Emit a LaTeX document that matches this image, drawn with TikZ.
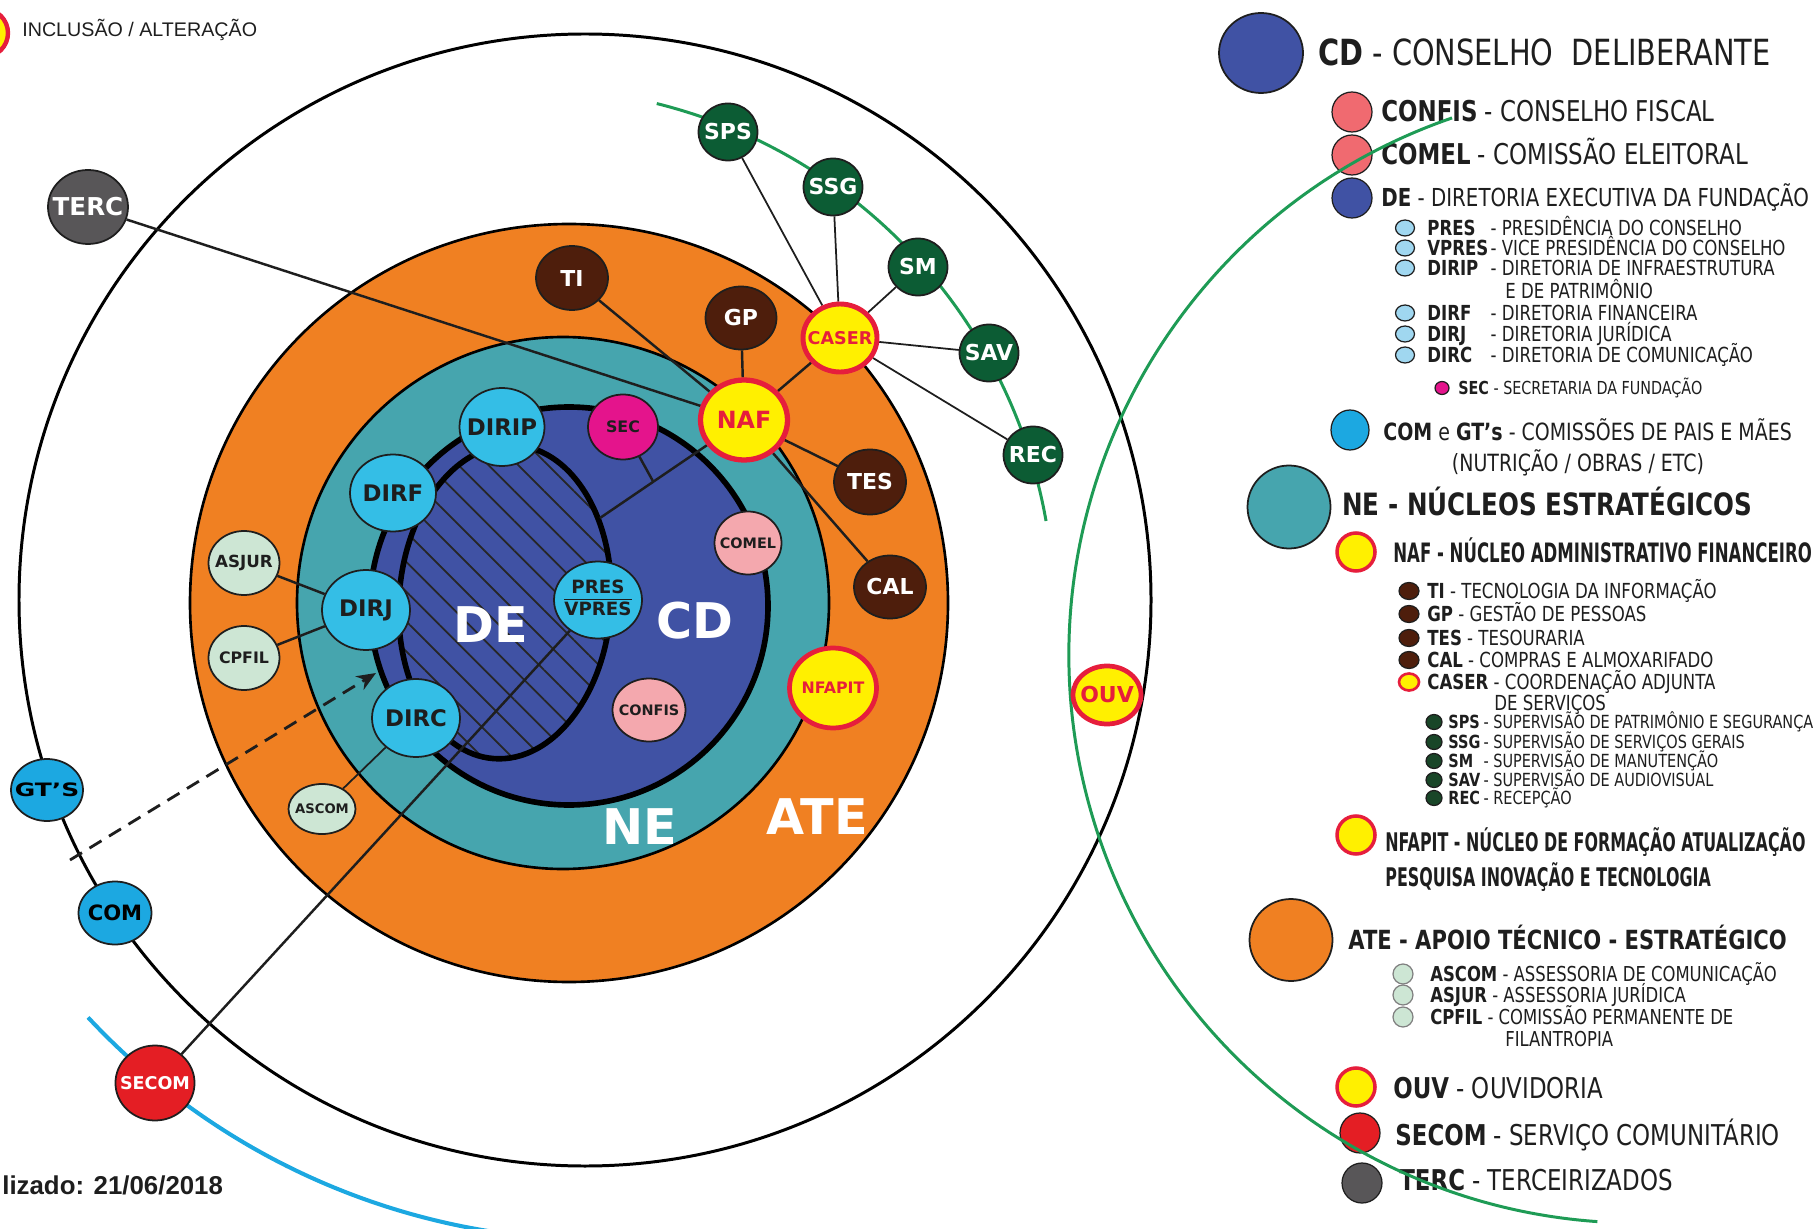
\documentclass[tikz,border=0pt]{standalone}
\usepackage{fontspec}
\setmainfont{DejaVu Sans}
\newfontfamily\condfont[FakeStretch=0.8]{DejaVu Sans}
\newfontfamily\narrowfont[FakeStretch=0.62]{DejaVu Sans}
\newfontfamily\widefont[FakeStretch=1.35]{DejaVu Sans}
\newfontfamily\arialfont{Liberation Sans}
\usepackage{tikz}
\usetikzlibrary{shapes.geometric,patterns.meta,arrows.meta,calc,positioning}

\newdimen\pxu \pxu=0.02cm
\newcommand{\fsz}[1]{\fontsize{#1}{#1}\selectfont}

\definecolor{ringorange}{RGB}{240,128,34}
\definecolor{ringteal}{RGB}{70,165,174}
\definecolor{cdblue}{RGB}{64,82,164}
\definecolor{dircyan}{RGB}{52,190,230}
\definecolor{comblue}{RGB}{28,168,225}
\definecolor{brownfill}{RGB}{78,30,12}
\definecolor{supgreen}{RGB}{12,92,52}
\definecolor{nafyellow}{RGB}{255,240,0}
\definecolor{nafred}{RGB}{230,30,60}
\definecolor{secmag}{RGB}{228,20,140}
\definecolor{pinkfill}{RGB}{244,168,174}
\definecolor{paleg}{RGB}{205,230,212}
\definecolor{secomred}{RGB}{228,30,36}
\definecolor{tercgray}{RGB}{88,86,88}
\definecolor{arcgreen}{RGB}{30,155,85}
\definecolor{arcblue}{RGB}{28,168,225}
\definecolor{inkdark}{RGB}{30,30,30}
\definecolor{salmon}{RGB}{240,106,112}
\definecolor{lightdir}{RGB}{160,215,240}
\definecolor{lgreen}{RGB}{25,70,40}

\pgfdeclarelayer{back}
\pgfdeclarelayer{mid}
\pgfsetlayers{back,mid,main}

\begin{document}
\begin{tikzpicture}[x=0.02cm,y=-0.02cm,
    bub/.style 2 args={ellipse, draw=inkdark, line width=1pt, inner xsep=-4pt, inner ysep=0pt,
      minimum width=#1*\pxu, minimum height=#2*\pxu, font=\bfseries},
    lgdot/.style 2 args={ellipse, draw=inkdark, line width=0.7pt, inner sep=0pt,
      minimum width=#1*\pxu, minimum height=#2*\pxu},
    dirnode/.style={fill=dircyan, text=inkdark, font=\bfseries\fsz{13}},
    brnode/.style={fill=brownfill, text=white, font=\bfseries\fsz{12.5}},
    supnode/.style={bub={59}{57}, fill=supgreen, text=white, font=\bfseries\fsz{12.5}},
    hotnode/.style={fill=nafyellow, draw=nafred, text=nafred},
    pinknode/.style={fill=pinkfill, text=inkdark},
    asnode/.style={fill=paleg, text=inkdark},
    comnode/.style={fill=comblue, text=black},
    ringlab/.style={text=white, font=\bfseries\fsz{28}},
    link/.style={draw=inkdark, line width=1.4pt},
    thinlink/.style={draw=inkdark, line width=1pt},
    dashline/.style={draw=inkdark, line width=1.6pt, dash pattern=on 8pt off 5pt,
      -{Stealth[length=11pt,width=9pt]}},
    lgtx/.style={anchor=base west, inner sep=0pt, text=inkdark, font=\condfont\fsz{#1}}]

\useasboundingbox (0,0) rectangle (1818,1229);

\node[bub={48}{48}, hotnode, line width=2.5pt] (incl) at (-16,33) {};
\node[anchor=base west, inner sep=0pt, text=inkdark, font=\arialfont\fsz{11.2}] (incltx) at (22,37) {INCLUSÃO / ALTERAÇÃO};
\node[anchor=base west, inner sep=0pt, text=inkdark, font=\arialfont\bfseries\fsz{14.7}] (datetx) at (2,1194) {lizado: 21/06/2018};

\node[bub={80}{74}, fill=tercgray, text=white, font=\bfseries\fsz{14}] (TERC) at (88,207) {TERC};
\node[supnode] (SPS) at (728,132) {SPS};
\node[supnode] (SSG) at (833,187) {SSG};
\node[supnode] (SM) at (918,267) {SM};
\node[supnode] (SAV) at (989,353) {SAV};
\node[supnode] (REC) at (1033,455) {REC};
\node[bub={74}{68}, hotnode, line width=2.8pt, font=\bfseries\fsz{10}] (CASER) at (840,338) {CASER};
\node[bub={87}{80}, hotnode, line width=3pt, font=\bfseries\fsz{13.5}] (NAF) at (744,420) {NAF};
\node[bub={72}{64}, brnode] (TI) at (572,278) {TI};
\node[bub={71}{63}, brnode] (GP) at (741,318) {GP};
\node[bub={72}{65}, brnode] (TES) at (870,482) {TES};
\node[bub={72}{63}, brnode] (CAL) at (890,587) {CAL};
\node[bub={85}{78}, dirnode] (DIRIP) at (502,427) {DIRIP};
\node[bub={70}{65}, fill=secmag, text=inkdark, font=\bfseries\fsz{9}] (SEC) at (623,427) {SEC};
\node[bub={86}{77}, dirnode] (DIRF) at (393,493) {DIRF};
\node[bub={88}{80}, dirnode] (DIRJ) at (366,610) {DIRJ};
\node[bub={88}{78}, dirnode] (DIRC) at (416,718) {DIRC};
\node[bub={88}{77}, dirnode, font=\bfseries\fsz{10.4}] (PRES) at (598,600)
  {\begin{tabular}{@{}c@{}}PRES\\\hline\rule{0pt}{9pt}VPRES\end{tabular}};
\node[bub={67}{63}, pinknode, font=\bfseries\fsz{8.2}] (COMEL) at (748,543) {COMEL};
\node[bub={73}{63}, pinknode, font=\bfseries\fsz{8.2}] (CONFIS) at (649,710) {CONFIS};
\node[bub={87}{80}, hotnode, line width=2.7pt, font=\bfseries\fsz{9}] (NFAPIT) at (833,688) {NFAPIT};
\node[bub={71}{64}, asnode, font=\bfseries\fsz{9.5}] (ASJUR) at (244,563) {ASJUR};
\node[bub={71}{64}, asnode, font=\bfseries\fsz{9}] (CPFIL) at (244,658) {CPFIL};
\node[bub={67}{50}, asnode, font=\bfseries\fsz{7.5}] (ASCOM) at (322,809) {ASCOM};
\node[bub={72}{62}, comnode, font=\widefont\bfseries\fsz{10.5}] (GTS) at (47,790) {GT’S};
\node[bub={73}{63}, comnode, font=\bfseries\fsz{12}] (COM) at (115,913) {COM};
\node[bub={78}{75}, fill=secomred, text=white, font=\bfseries\fsz{10}] (SECOM) at (155,1083) {SECOM};

\node[ringlab] (DElab) at (491,625) {DE};
\node[ringlab] (CDlab) at (695,621) {CD};
\node[ringlab] (NElab) at (640,827) {NE};
\node[ringlab] (ATElab) at (817,817) {ATE};

\coordinate (dejoint) at (600,518);
\coordinate (secjoint) at ($(NAF)!0.63!(dejoint)$);
\coordinate (gtjoint) at (70,860);
\coordinate (detip) at (376,673);

\begin{pgfonlayer}{back}
  \draw[line width=1.7pt] (585,600) circle [radius=566];
  \draw[arcgreen, line width=1.7pt] ([shift={(-76:524)}]530,612) arc [start angle=-76, end angle=-10, radius=524];
  \draw[arcblue, line width=2.3pt] ([shift={(137:700)}]600,540) arc [start angle=137, end angle=86, radius=700];
  \draw[fill=ringorange, line width=1.5pt] (569,603) circle [radius=379];
  \draw[fill=ringteal, line width=1.5pt] (563,603) circle [radius=266];
  \draw[fill=cdblue, line width=3.2pt] (569,606) circle [radius=199];
  \draw[line width=3.2pt, preaction={fill=cdblue}, pattern={Lines[angle=-45,distance=12pt,line width=1pt]},
    pattern color=black!85] (505,602) ellipse [x radius=106, y radius=157, rotate=-4];
\end{pgfonlayer}

\begin{pgfonlayer}{mid}
  \draw[link] (TERC) -- (NAF);
  \draw[link] (TI) -- (NAF);
  \draw[link] (GP) -- (NAF);
  \draw[link] (NAF) -- (CASER);
  \draw[link] (NAF) -- (TES);
  \draw[link] (NAF) -- (CAL);
  \draw[link] (NAF) -- (dejoint);
  \draw[link] (SEC) -- (secjoint);
  \foreach \s in {SPS,SSG,SM,SAV,REC}
    \draw[thinlink] (CASER) -- (\s);
  \draw[link] (ASJUR) -- (DIRJ);
  \draw[link] (CPFIL) -- (DIRJ);
  \draw[thinlink] (ASCOM) -- (DIRC);
  \draw[link] (SECOM) -- (PRES);
  \draw[dashline] (gtjoint) -- (detip);
\end{pgfonlayer}

\node[bub={84}{80}, fill=cdblue] (lgCD) at (1261,53) {};
\node[lgtx=20.5] (txCD) at (1318,66) {\textbf{CD} - CONSELHO\ \ DELIBERANTE};
\node[lgdot={40}{40}, fill=salmon] (lgCONFIS) at (1352,112) {};
\node[lgtx=16.3] (txCONFIS) at (1381,122) {\textbf{CONFIS} - CONSELHO FISCAL};
\node[lgdot={40}{40}, fill=salmon] (lgCOMEL) at (1352,155) {};
\node[lgtx=16.3] (txCOMEL) at (1381,165) {\textbf{COMEL} - COMISSÃO ELEITORAL};
\node[lgdot={40}{40}, fill=cdblue] (lgDE) at (1352,198) {};
\node[lgtx=14.1] (txDE) at (1381,207) {\textbf{DE} - DIRETORIA EXECUTIVA DA FUNDAÇÃO};
\foreach \y/\ab/\tx in {228/PRES/PRESIDÊNCIA DO CONSELHO, 248/VPRES/VICE PRESIDÊNCIA DO CONSELHO,
    268/DIRIP/DIRETORIA DE INFRAESTRUTURA, 313/DIRF/DIRETORIA FINANCEIRA,
    334/DIRJ/DIRETORIA JURÍDICA, 355/DIRC/DIRETORIA DE COMUNICAÇÃO} {
  \node[lgdot={19}{16}, fill=lightdir] (lg\ab) at (1405,\y) {};
  \node[lgtx=11.8] (tx\ab) at (1427,\y+7.6) {\makebox[36pt][l]{\textbf{\ab}}- \tx};
}
\node[lgtx=11.8] (txDIRIPb) at (1505,298.6) {E DE PATRIMÔNIO};
\node[lgdot={14}{13}, fill=secmag] (lgSEC) at (1442,388) {};
\node[lgtx=10.2] (txSEC) at (1458,394.5) {\textbf{SEC} - SECRETARIA DA FUNDAÇÃO};

\node[lgdot={38}{40}, fill=comblue] (lgCOM) at (1350,430) {};
\node[lgtx=13.5] (txCOM) at (1383,440.7) {\textbf{COM} e \textbf{GT’s} - COMISSÕES DE PAIS E MÃES};
\node[lgtx=13.5, anchor=base] (txCOMb) at (1578,471.7) {(NUTRIÇÃO / OBRAS / ETC)};

\node[bub={83}{83}, fill=ringteal] (lgNE) at (1289,507) {};
\node[lgtx=17.5] (txNE) at (1342,516) {\textbf{NE - NÚCLEOS ESTRATÉGICOS}};
\node[lgdot={38}{38}, fill=nafyellow, draw=nafred, line width=2pt] (lgNAF) at (1356,552) {};
\node[lgtx=15.2, font=\narrowfont\bfseries\fsz{15.2}] (txNAF) at (1393,562.7) {NAF - NÚCLEO ADMINISTRATIVO FINANCEIRO};
\foreach \y/\ab/\tx in {591/TI/TECNOLOGIA DA INFORMAÇÃO, 614/GP/GESTÃO DE PESSOAS,
    638/TES/TESOURARIA, 660/CAL/COMPRAS E ALMOXARIFADO} {
  \node[lgdot={20}{17}, fill=brownfill] (lg\ab) at (1409,\y) {};
  \node[lgtx=11.8] (tx\ab) at (1427,\y+7.6) {\textbf{\ab} - \tx};
}
\node[lgdot={20}{17}, fill=nafyellow, draw=nafred, line width=1.5pt] (lgCASER) at (1409,682) {};
\node[lgtx=11.8] (txCASER) at (1427,689.6) {\textbf{CASER} - COORDENAÇÃO ADJUNTA};
\node[lgtx=11.8] (txCASERb) at (1494,710.6) {DE SERVIÇOS};
\foreach \y/\ab/\tx in {722/SPS/SUPERVISÃO DE PATRIMÔNIO E SEGURANÇA, 742/SSG/SUPERVISÃO DE SERVIÇOS GERAIS,
    761/SM/SUPERVISÃO DE MANUTENÇÃO, 780/SAV/SUPERVISÃO DE AUDIOVISUAL, 798/REC/RECEPÇÃO} {
  \node[lgdot={16}{15}, fill=lgreen] (lg\ab) at (1434,\y) {};
  \node[lgtx=10.3] (tx\ab) at (1448,\y+6.6) {\makebox[20pt][l]{\textbf{\ab}}- \tx};
}
\node[lgdot={38}{38}, fill=nafyellow, draw=nafred, line width=2pt] (lgNFAPIT) at (1356,835) {};
\node[lgtx=14.6, font=\narrowfont\bfseries\fsz{14.6}] (txNFAPIT) at (1385,851.4) {NFAPIT - NÚCLEO DE FORMAÇÃO ATUALIZAÇÃO};
\node[lgtx=14.6, font=\narrowfont\bfseries\fsz{14.6}] (txNFAPITb) at (1385,886.4) {PESQUISA INOVAÇÃO E TECNOLOGIA};

\node[bub={83}{82}, fill=ringorange] (lgATE) at (1291,940) {};
\node[lgtx=15] (txATE) at (1348,949.6) {\textbf{ATE - APOIO TÉCNICO - ESTRATÉGICO}};
\foreach \y/\ab/\tx in {974/ASCOM/ASSESSORIA DE COMUNICAÇÃO, 995/ASJUR/ASSESSORIA JURÍDICA,
    1017/CPFIL/COMISSÃO PERMANENTE DE} {
  \node[lgdot={20}{20}, fill=paleg, draw=gray] (lg\ab) at (1403,\y) {};
  \node[lgtx=11.7] (tx\ab) at (1430,\y+7.5) {\textbf{\ab} - \tx};
}
\node[lgtx=11.7] (txCPFILb) at (1505,1046.5) {FILANTROPIA};

\node[lgdot={38}{38}, fill=nafyellow, draw=nafred, line width=2pt] (lgOUV) at (1356,1087) {};
\node[lgtx=16.3] (txOUV) at (1393,1098.4) {\textbf{OUV} - OUVIDORIA};
\node[lgdot={40}{40}, fill=secomred] (lgSECOM) at (1360,1133) {};
\node[lgtx=16.3] (txSECOM) at (1395,1145.4) {\textbf{SECOM} - SERVIÇO COMUNITÁRIO};
\node[lgdot={40}{40}, fill=tercgray] (lgTERC) at (1362,1183) {};
\node[lgtx=16.3] (txTERC) at (1399,1190.4) {\textbf{TERC} - TERCEIRIZADOS};

\draw[arcgreen, line width=1.7pt] ([shift={(251:568)}]1637,655) arc [start angle=251, end angle=94, radius=568];

\node[bub={68}{58}, hotnode, line width=2.7pt, font=\bfseries\fsz{12.5}] (OUV) at (1107,695) {OUV};
\end{tikzpicture}
\end{document}
